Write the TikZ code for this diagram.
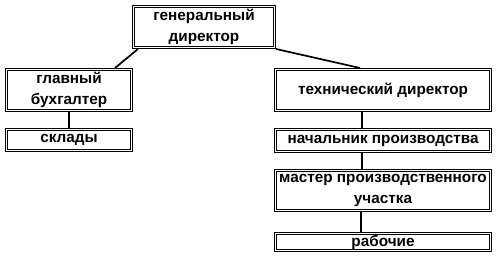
\documentclass[tikz,border=0pt]{standalone}
\usepackage{fontspec}
\setmainfont{Liberation Sans}
\usepackage{tikz}
\usetikzlibrary{positioning}
\tikzset{
  post/.style={draw=black,double=white,line width=0.8pt,double distance=1.6pt,
    outer sep=1.6pt,inner sep=0.5pt,minimum width=214.8pt,align=center,
    font=\bfseries\fontsize{15.3}{21}\selectfont},
  link/.style={line width=1.7pt,color=black},
}
\begin{document}
\begin{tikzpicture}[x=1pt,y=-1pt,node distance=16pt]
\useasboundingbox (0,0) rectangle (498,259);
\node[post,minimum width=140.8pt,minimum height=40.8pt] (gen) at (204,27) {генеральный\\директор};
\node[post,minimum width=124.8pt,minimum height=40.8pt] (glav) at (69,90) {главный\\бухгалтер};
\node[post,minimum width=124.8pt,minimum height=20.8pt,below=of glav] (sklad) {склады};
\node[post,minimum height=40.8pt] (tech) at (383,90) {технический директор};
\node[post,minimum height=21.8pt,below=of tech] (nach) {начальник производства};
\node[post,minimum height=39.8pt,below=of nach] (master) {мастер производственного\\участка};
\node[post,minimum height=16.8pt,below=20pt of master] (rab) {рабочие};
\draw[link] ([xshift=6pt]gen.south west) -- ([xshift=-18pt]glav.north east);
\draw[link] (gen.south east) -- ([xshift=-23pt]tech.north);
\draw[link] (glav.south) -- (sklad.north);
\draw[link] ([xshift=-21pt]tech.south) -- ([xshift=-21pt]nach.north);
\draw[link] ([xshift=-21pt]nach.south) -- ([xshift=-21pt]master.north);
\draw[link] ([xshift=-22pt]master.south) -- ([xshift=-22pt]rab.north);
\end{tikzpicture}
\end{document}
